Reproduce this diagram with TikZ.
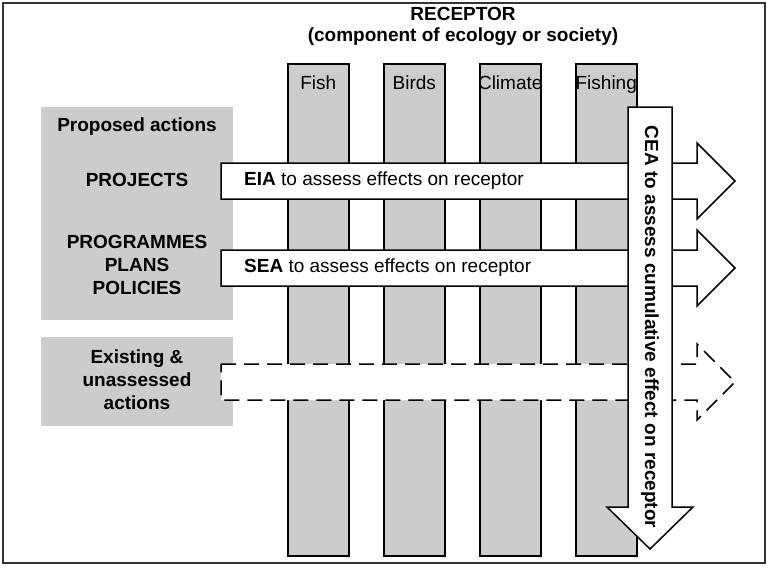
\documentclass[tikz,border=0pt]{standalone}
\usepackage{fontspec}
\setmainfont{Liberation Sans}
\definecolor{colgray}{HTML}{CCCCCC}
\definecolor{framegray}{HTML}{333333}
\begin{document}
\begin{tikzpicture}[x=1pt,y=-1pt,
  colbox/.style={draw=black, line width=1.5pt, fill=colgray, minimum width=61pt, minimum height=492pt, anchor=north west, inner sep=0pt},
  collabel/.style={font=\fontsize{19}{22}\selectfont, anchor=base, inner sep=0pt},
  graybox/.style={fill=colgray, draw=none, anchor=north west, inner sep=0pt},
  boldtxt/.style={font=\fontsize{19}{23}\selectfont\bfseries, align=center},
  harrow/.style={draw=black, line width=1.5pt, fill=white, line join=miter},
  arrtxt/.style={font=\fontsize{19}{22}\selectfont, anchor=west, inner sep=0pt}
]
\useasboundingbox (0,0) rectangle (768,568);
\draw[line width=2pt, draw=framegray] (3,3) rectangle (765,563);

% title
\node[boldtxt] (title1) at (463,14) {RECEPTOR};
\node[boldtxt] (title2) at (463,37) {(component of ecology or society)};

% columns
\node[colbox] (fish) at (287,63) {};
\node[colbox] (birds) at (383,63) {};
\node[colbox] (climate) at (479,63) {};
\node[colbox] (fishing) at (575,63) {};
\node[collabel] (lfish) at ([yshift=-26]fish.north) {Fish};
\node[collabel] (lbirds) at ([yshift=-26]birds.north) {Birds};
\node[collabel] (lclimate) at ([yshift=-26]climate.north) {Climate};
\node[collabel] (lfishing) at ([yshift=-26]fishing.north) {Fishing};

% left boxes
\node[graybox, minimum width=192pt, minimum height=213pt] (proposed) at (41,107) {};
\node[graybox, minimum width=192pt, minimum height=89pt] (existing) at (41,337) {};
\node[boldtxt] (tprop) at (137,127) {Proposed actions};
\node[boldtxt] (tproj) at (137,180) {PROJECTS};
\node[boldtxt] (tppp) at (137,265) {PROGRAMMES\\PLANS\\POLICIES};
\node[boldtxt] (texist) at (137,380) {Existing \&\\unassessed\\actions};

% horizontal arrows
\draw[harrow] (221,163) -- (697,163) -- (697,143) -- (735,181) -- (697,219) -- (697,199) -- (221,199) -- cycle;
\draw[harrow] (221,250) -- (697,250) -- (697,230) -- (735,268) -- (697,306) -- (697,286) -- (221,286) -- cycle;
\draw[harrow, dash pattern=on 15pt off 8pt] (221,364) -- (697,364) -- (697,344) -- (735,382) -- (697,420) -- (697,400) -- (221,400) -- cycle;
\node[arrtxt] (eia) at (244,181) {\textbf{EIA} to assess effects on receptor};
\node[arrtxt] (sea) at (244,268) {\textbf{SEA} to assess effects on receptor};

% CEA arrow
\draw[harrow] (628,107) -- (672,107) -- (672,507) -- (693,507) -- (650,549) -- (607,507) -- (628,507) -- cycle;
\node[font=\fontsize{19}{22}\selectfont\bfseries, rotate=-90, inner sep=0pt] (cea) at (650,327) {CEA to assess cumulative effect on receptor};
\end{tikzpicture}
\end{document}
